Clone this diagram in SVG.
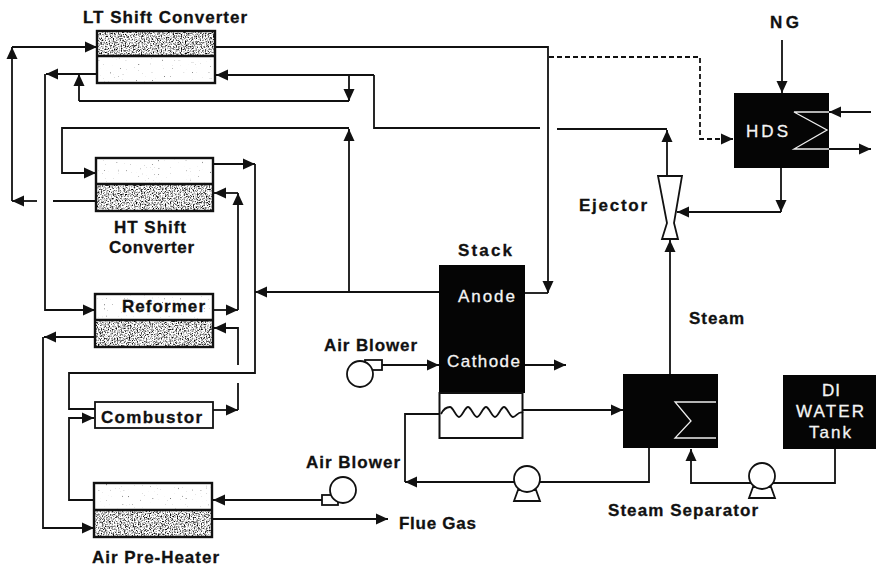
<svg xmlns="http://www.w3.org/2000/svg" width="876" height="567" viewBox="0 0 876 567">
<style>
text{font-family:"Liberation Sans",Arial,sans-serif;font-weight:bold;font-size:17px;fill:#111;stroke:#111;stroke-width:.3}
text.w{fill:#f4f4f4;stroke:#f4f4f4;font-weight:normal;stroke-width:.3}
.c{fill:none;stroke:#111;stroke-width:1.8}
.a{marker-end:url(#ar)}
.box{fill:none;stroke:#111;stroke-width:2.4}
.ng{filter:url(#gn)}
.nl{filter:url(#ln)}
.blk{fill:#050505;stroke:none}
.wl{fill:none;stroke:#eee;stroke-width:1.3}
.eq{fill:#fff;stroke:#111;stroke-width:1.8}
</style>
<defs>
<marker id="ar" markerUnits="userSpaceOnUse" markerWidth="13" markerHeight="13" refX="12" refY="6.500" viewBox="0 0 13 13" orient="auto"><path d="M0 1L12 6.500L0 12Z" fill="#111"/></marker>
<filter id="gn" x="0" y="0" width="1" height="1" color-interpolation-filters="sRGB"><feTurbulence type="fractalNoise" baseFrequency=".75" numOctaves="2" seed="4"/><feColorMatrix values="3 0 0 0 -.68 3 0 0 0 -.68 3 0 0 0 -.68 0 0 0 0 1"/></filter>
<filter id="ln" x="0" y="0" width="1" height="1" color-interpolation-filters="sRGB"><feTurbulence type="fractalNoise" baseFrequency=".5" numOctaves="2" seed="9"/><feColorMatrix values="4 0 0 0 -.15 4 0 0 0 -.15 4 0 0 0 -.15 0 0 0 0 1"/></filter>
</defs>
<g id="connectors">
<path class="c a" d="M12 201V47"/><path class="c a" d="M12 47H97"/>
<path class="c a" d="M37 201H12"/>
<path class="c" d="M96 201H53"/>
<path class="c a" d="M97 74H46"/><path class="c a" d="M45 74V310H95"/>
<path class="c a" d="M79 101V74"/><path class="c" d="M79 101H349"/>
<path class="c a" d="M349 75V101"/>
<path class="c a" d="M374 75H216"/>
<path class="c" d="M374 75V128H540M557 129H667"/>
<path class="c" d="M215 47H548V78"/><path class="c a" d="M548 78V293"/><path class="c" d="M525 293H548"/>
<path class="c a" d="M549 57H700V139H733" stroke-dasharray="5 3"/>
<path class="c a" d="M349 292V129"/><path class="c a" d="M349 128H62V173H96"/>
<path class="c a" d="M439 292H255"/>
<path class="c a" d="M213 164H255"/>
<path class="c" d="M255 164V373H69V409H95"/>
<path class="c a" d="M94 500H69V418H94"/>
<path class="c a" d="M213 310H238"/><path class="c a" d="M238 310V193"/><path class="c a" d="M238 193H214"/>
<path class="c a" d="M238 365V328H214"/>
<path class="c a" d="M213 410H238"/><path class="c" d="M238 410V383"/>
<path class="c a" d="M95 337H44"/><path class="c a" d="M43 337V528H94"/>
<path class="c a" d="M322 500H213"/>
<path class="c a" d="M212 519H388"/>
<path class="c a" d="M382 365H439"/>
<path class="c a" d="M525 365H566"/>
<path class="c a" d="M523 410H623"/>
<path class="c a" d="M649 448V482H405"/>
<path class="c" d="M405 482V414H440"/>
<path class="c a" d="M835 448V483H691V449"/>
<path class="c a" d="M670 374V240"/>
<path class="c a" d="M667 175V130"/>
<path class="c a" d="M782 40V93"/>
<path class="c a" d="M781 168V212"/>
<path class="c a" d="M781 212H677"/>
<path class="c a" d="M871 112H829"/>
<path class="c a" d="M829 149H871"/>
</g>
<g id="lt-shift-converter"><rect x="97" y="31" width="118" height="25" class="ng"/><rect x="97" y="56" width="118" height="27" class="nl"/><rect x="97" y="31" width="118" height="52" class="box"/><path class="box" d="M97 56H215"/><text x="83" y="23" textLength="164">LT Shift Converter</text></g>
<g id="ht-shift-converter"><rect x="96" y="158" width="117" height="26" class="nl"/><rect x="96" y="184" width="117" height="27" class="ng"/><rect x="96" y="158" width="117" height="53" class="box"/><path class="box" d="M96 184H213"/><text x="114" y="233" textLength="72">HT Shift</text><text x="109" y="253" textLength="85">Converter</text></g>
<g id="reformer"><rect x="95" y="294" width="118" height="26" class="nl"/><rect x="95" y="320" width="118" height="27" class="ng"/><rect x="95" y="294" width="118" height="53" class="box"/><path class="box" d="M95 320H213"/><text x="122" y="312" textLength="83">Reformer</text></g>
<g id="combustor"><rect x="95" y="402" width="118" height="26" class="eq"/><text x="101" y="423" textLength="101">Combustor</text></g>
<g id="air-pre-heater"><rect x="94" y="483" width="118" height="27" class="nl"/><rect x="94" y="510" width="118" height="27" class="ng"/><rect x="94" y="483" width="118" height="54" class="box"/><path class="box" d="M94 510H212"/><text x="92" y="563" textLength="127">Air Pre-Heater</text></g>
<g id="stack"><rect class="blk" x="439" y="265" width="86" height="128"/><rect x="439.500" y="393" width="83" height="45" fill="#fff" stroke="#111" stroke-width="2"/><path class="c" d="M441 414C444 408 447 407 450 407S456 417 459 417S465 407 468 407S474 417 477 417S483 407 486 407S492 417 495 417S501 407 504 407S510 417 513 417S519 410 523 413"/><text class="w" x="458" y="302" textLength="57">Anode</text><text class="w" x="447" y="367" textLength="73">Cathode</text><text x="458" y="256" textLength="54">Stack</text></g>
<g id="air-blower-1"><rect x="365" y="360" width="17" height="10" class="eq"/><circle cx="360" cy="374" r="13" class="eq"/><text x="324" y="351" textLength="93">Air Blower</text></g>
<g id="air-blower-2"><rect x="322" y="495" width="16" height="10" class="eq"/><circle cx="343" cy="490" r="13" class="eq"/><text x="306" y="468" textLength="94">Air Blower</text></g>
<g id="flue-gas"><text x="399" y="529" textLength="77">Flue Gas</text></g>
<g id="steam-separator"><rect class="blk" x="623" y="374" width="95" height="74"/><path class="wl" d="M716 402H675L691 421L675 438H716"/><text x="608" y="516" textLength="150">Steam Separator</text></g>
<g id="steam-label"><text x="689" y="324" textLength="55">Steam</text></g>
<g id="di-water-tank"><rect class="blk" x="783" y="375" width="93" height="74"/><text class="w" x="822" y="396" textLength="18">DI</text><text class="w" x="796" y="417" textLength="68">WATER</text><text class="w" x="809" y="438" textLength="42">Tank</text></g>
<g id="pump-1"><path class="eq" d="M518 490L514 501H540L536 490Z"/><circle cx="527" cy="479" r="13" class="eq"/></g>
<g id="pump-2"><path class="eq" d="M753 487L749 498H775L771 487Z"/><circle cx="762" cy="476" r="13" class="eq"/></g>
<g id="ejector"><path class="eq" d="M658 176H682L674 223L678 239H662L667 223Z"/><text x="579" y="211" textLength="68">Ejector</text></g>
<g id="hds"><rect class="blk" x="734" y="93" width="95" height="75"/><path class="wl" d="M829 112H794L827 130L794 149H829"/><text class="w" x="746" y="137" textLength="42">HDS</text><text x="770" y="28" textLength="29">NG</text></g>
</svg>
